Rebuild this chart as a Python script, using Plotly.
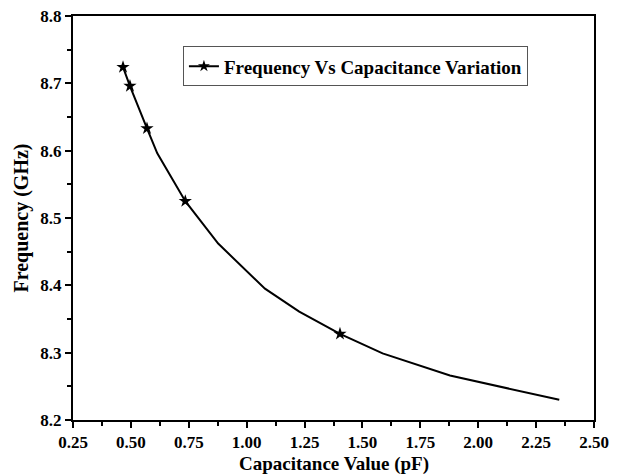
import plotly.graph_objects as go

capacitance = [0.466, 0.496, 0.5695, 0.614, 0.735, 0.877, 1.079, 1.227, 1.403, 1.587, 1.878, 2.350]
frequency = [8.724, 8.696, 8.633, 8.596, 8.525, 8.462, 8.395, 8.361, 8.328, 8.299, 8.266, 8.230]
marked = [True, True, True, False, True, False, False, False, True, False, False, False]

x_ticks = [0.25, 0.50, 0.75, 1.00, 1.25, 1.50, 1.75, 2.00, 2.25, 2.50]
x_tick_labels = ["0.25", "0.50", "0.75", "1.00", "1.25", "1.50", "1.75", "2.00", "2.25", "2.50"]
y_ticks = [8.2, 8.3, 8.4, 8.5, 8.6, 8.7, 8.8]
y_tick_labels = ["8.2", "8.3", "8.4", "8.5", "8.6", "8.7", "8.8"]

series_name = "Frequency Vs Capacitance Variation"
x_title = "Capacitance Value (pF)"
y_title = "Frequency (GHz)"
FONT = "Liberation Serif"

mx = [c for c, m in zip(capacitance, marked) if m]
my = [f for f, m in zip(frequency, marked) if m]

fig = go.Figure()
fig.add_trace(go.Scatter(x=capacitance, y=frequency, mode="lines",
                         line=dict(color="black", width=2), showlegend=False))
fig.add_trace(go.Scatter(x=mx, y=my, mode="markers",
                         marker=dict(symbol="star", size=10, color="black"), showlegend=False))
fig.add_trace(go.Scatter(x=[None], y=[None], mode="lines+markers", name=series_name,
                         line=dict(color="black", width=2),
                         marker=dict(symbol="star", size=9, color="black")))

axis_common = dict(
    showline=True, linecolor="black", linewidth=2, mirror=True,
    ticks="outside", ticklen=6, tickwidth=2, tickcolor="black",
    showgrid=False, zeroline=False,
    tickfont=dict(family=FONT, size=17, color="black", weight="bold"),
)

fig.update_xaxes(
    range=[0.25, 2.50], tickvals=x_ticks, ticktext=x_tick_labels,
    minor=dict(ticks="outside", ticklen=4, tickwidth=2, tickcolor="black", dtick=0.125, tick0=0.25),
    **axis_common,
)
fig.update_yaxes(
    range=[8.2, 8.8], tickvals=y_ticks, ticktext=y_tick_labels,
    minor=dict(ticks="outside", ticklen=4, tickwidth=2, tickcolor="black", dtick=0.05, tick0=8.2),
    title=dict(text="<b>" + y_title + "</b>", font=dict(family=FONT, size=20, color="black"), standoff=6),
    **axis_common,
)

fig.add_annotation(text="<b>" + x_title + "</b>", xref="paper", yref="paper",
                   x=0.5, y=-0.076, xanchor="center", yanchor="top", showarrow=False,
                   font=dict(family=FONT, size=19, color="black"))

fig.update_layout(
    width=619, height=474,
    margin=dict(l=73, r=25, t=16, b=54, autoexpand=False),
    paper_bgcolor="white", plot_bgcolor="white",
    legend=dict(x=0.211, y=0.925, xanchor="left", yanchor="top",
                bordercolor="#555555", borderwidth=1, bgcolor="white",
                font=dict(family=FONT, size=19, color="black", weight="bold"),
                tracegroupgap=0, itemwidth=30),
    showlegend=True,
)

fig.write_html("out.html", config={"displayModeBar": False},
               post_script="document.body.style.margin='0px';document.body.style.overflow='hidden';")
